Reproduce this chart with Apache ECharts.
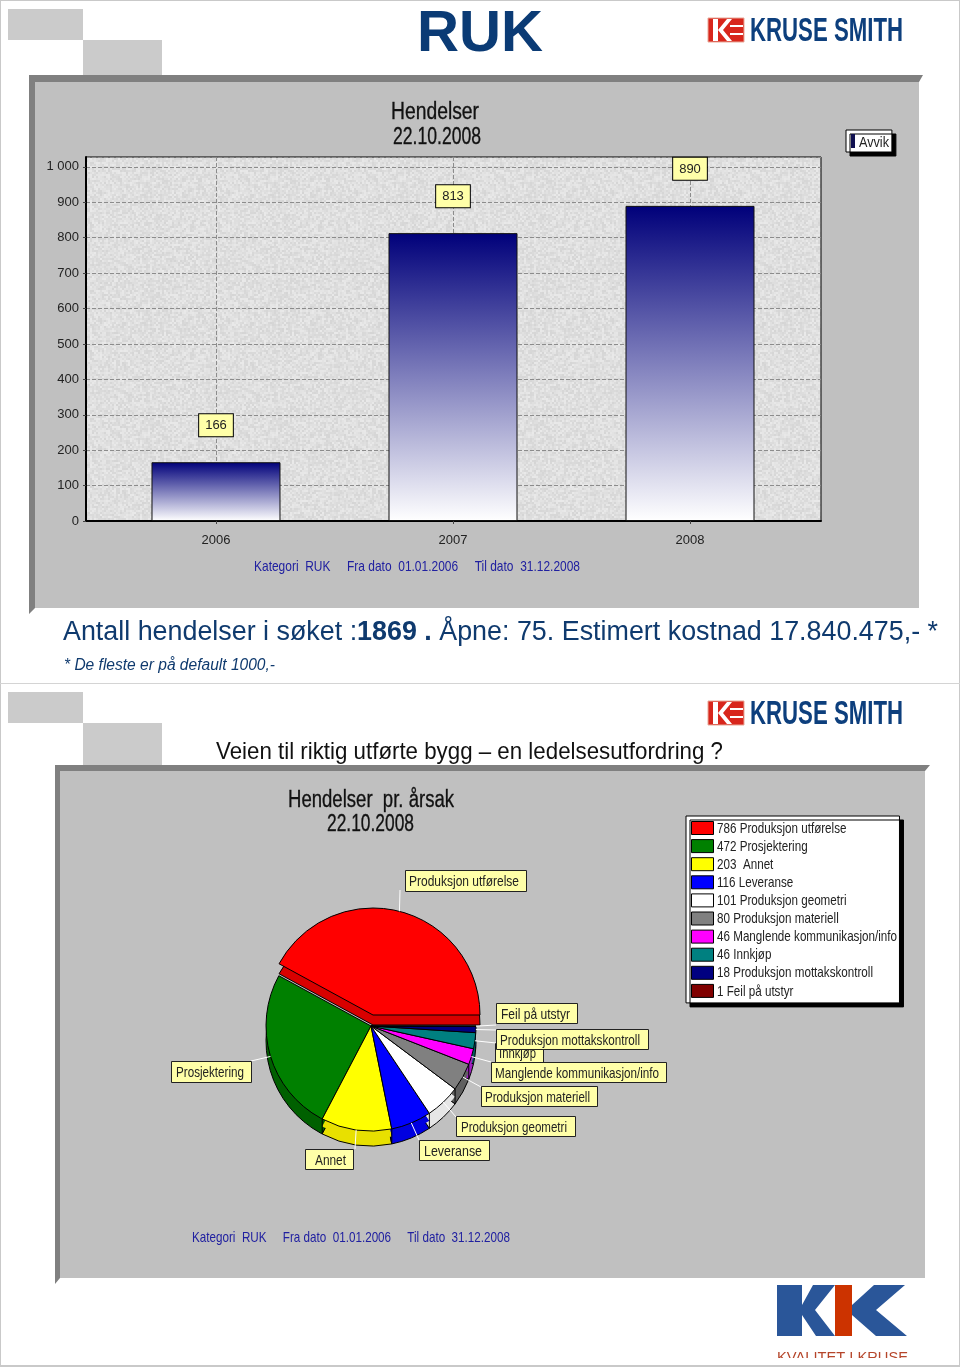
<!DOCTYPE html>
<html><head><meta charset="utf-8">
<style>html,body{margin:0;padding:0;background:#fff}#c{width:960px;height:1367px}</style>
<script src="https://cdn.jsdelivr.net/npm/echarts@6/dist/echarts.min.js"></script>
</head><body><div id="c"></div>
<script>
// ---- data ----
const years = [2006, 2007, 2008];
const yearValues = [166, 813, 890];
const barSeriesName = 'Avvik';
const causes = ['Produksjon utførelse','Prosjektering','Annet','Leveranse','Produksjon geometri','Produksjon materiell','Manglende kommunikasjon/info','Innkjøp','Produksjon mottakskontroll','Feil på utstyr'];
const causeValues = [786, 472, 203, 116, 101, 80, 46, 46, 18, 1];
const sliceColors = ['#ff0000','#008000','#ffff00','#0000ff','#ffffff','#808080','#ff00ff','#008080','#000080','#800000'];
const sideColors  = ['#d80000','#006000','#e8e000','#0000e0','#e6e6e6','#606060','#a020c0','#006060','#000060','#600000'];
const yTicks = [0,100,200,300,400,500,600,700,800,900,1000];

// ---- layout constants ----
const SANS = '"Liberation Sans",Arial,sans-serif';
const PIE = {x:371, y:1026, r:105, depth:15};
const RED = {x:373, y:1015, r:107, depth:10};
const callouts = [
 {i:7, box:[495,1043,48,19], end:[496,1043], t:[499,536]},
 {i:0, box:[405,870,121,21], end:[400,890], t:[409,519], from:'red'},
 {i:9, box:[496,1003,81,20], end:[496,1025], t:[501,570]},
 {i:8, box:[496,1029,152,20], end:[496,1030], t:[500,640]},
 {i:6, box:[491,1062,175,20], end:[491,1062], t:[495,659]},
 {i:5, box:[481,1086,116,20], end:[481,1087], t:[485,590]},
 {i:4, box:[456,1116,119,20], end:[456,1117], t:[461,567]},
 {i:3, box:[419,1140,70,20], end:[419,1140], t:[424,482]},
 {i:2, box:[305,1149,48,20], end:[355,1149], t:[315,346]},
 {i:1, box:[171,1061,80,21], end:[251,1061], t:[176,244]}
];

// ---- helpers ----
const mctx=document.createElement('canvas').getContext('2d');
function measure(t,font){mctx.font=font;return mctx.measureText(t).width;}
function noisePattern(){
  const c=document.createElement('canvas');c.width=c.height=128;
  const g=c.getContext('2d');let s=12345;
  for(let y=0;y<128;y+=2)for(let x=0;x<128;x+=2){
    s=(s*1103515245+12345)&0x7fffffff;
    const v=213+((s>>16)%21);
    g.fillStyle='rgb('+v+','+v+','+v+')';g.fillRect(x,y,2,2);
  }
  return {image:c,repeat:'repeat'};
}
const total = causeValues.reduce((a,b)=>a+b,0);
function angleAt(k){let s=0;for(let i=0;i<k;i++)s+=causeValues[i];return s/total*2*Math.PI;}
function rim(P,ang){return [P.x+P.r*Math.cos(ang),P.y-P.r*Math.sin(ang)];}

function pieLayer(name,cx,cy,r,colorOf,z,bw){
  return {type:'pie',name,center:[cx,cy],radius:[0,r],startAngle:0,clockwise:false,z,
    avoidLabelOverlap:false,silent:true,label:{show:false},labelLine:{show:false},emphasis:{disabled:true},
    minAngle:0,minShowLabelAngle:0,
    data:causes.map((n,i)=>({name:n,value:causeValues[i],itemStyle:{color:colorOf(i),borderColor:colorOf(i)==='transparent'?'transparent':'#000',borderWidth:bw,borderJoin:'round'}}))};
}
const series=[
  pieLayer('Årsak',PIE.x,PIE.y,PIE.r,i=>i===0?'transparent':sliceColors[i],6,1),
  pieLayer('s1',PIE.x,PIE.y+PIE.depth*0.5,PIE.r,i=>i===0?'transparent':sideColors[i],4,0),
  pieLayer('s2',PIE.x,PIE.y+PIE.depth,PIE.r,i=>i===0?'transparent':sideColors[i],3,1),
  pieLayer('r1',RED.x,RED.y+RED.depth,RED.r,i=>i===0?sideColors[0]:'transparent',7,1),
  pieLayer('r2',RED.x,RED.y,RED.r,i=>i===0?sliceColors[0]:'transparent',8,1),
  {type:'bar',name:barSeriesName,xAxisIndex:0,yAxisIndex:0,barWidth:129,silent:true,z:3,
   data:years.map((y,i)=>[y,yearValues[i]]),
   itemStyle:{borderColor:'#111',borderWidth:1,
     color:{type:'linear',x:0,y:0,x2:0,y2:1,colorStops:[{offset:0,color:'#00007a'},{offset:1,color:'#ffffff'}]}},
   label:{show:true,position:'top',distance:26,formatter:p=>String(p.value[1]),
     backgroundColor:'#ffffa8',borderColor:'#000',borderWidth:1,padding:[5,6,4,6],
     fontFamily:SANS,fontSize:13,color:'#222'}}
];

// ---- decoration ----
const g=[];
function rect(x,y,w,h,fill,z,extra){g.push({type:'rect',z:z,silent:true,shape:{x,y,width:w,height:h},style:Object.assign({fill},extra||{})});}
function poly(pts,fill,z){g.push({type:'polygon',z:z,silent:true,shape:{points:pts},style:{fill}});}
// text squeezed horizontally to run from x0 to x1 (the reference uses a narrow face)
function fit(t,x0,x1,y,font,fill,z,extra){
  const w=measure(t,font);
  g.push({type:'text',z:z,silent:true,x:x0,y:y,scaleX:(x1-x0)/w,originX:0,originY:0,
    style:Object.assign({text:t,x:0,y:0,font,fill,textAlign:'left',textVerticalAlign:'middle'},extra||{})});
}
const BG=-20,PN=-10;
rect(0,0,960,1,'#c9c9c9',BG);rect(0,0,1,1367,'#c9c9c9',BG);rect(959,0,1,1367,'#c9c9c9',BG);
rect(0,683,960,1,'#d4d4d4',BG);rect(0,1365,960,2,'#c9c9c9',BG);
[[8,9,75,31],[83,40,79,35],[8,692,75,31],[83,723,79,42]].forEach(a=>rect(a[0],a[1],a[2],a[3],'#cbcbcb',BG));
poly([[29,75],[923,75],[919,82],[35,82],[35,608],[29,614]],'#808080',PN);
rect(35,82,884,526,'#c0c0c0',PN);
poly([[55,765],[930,765],[925,771],[60,771],[60,1278],[55,1284]],'#808080',PN);
rect(60,771,865,507,'#c0c0c0',PN);
// headings
fit('RUK',417,543,35,'bold 58px '+SANS,'#0b3b75',10);
const L1='Antall hendelser i søket :',L2='1869 .',L3=' Åpne: 75. Estimert kostnad 17.840.475,- *';
const lineW=measure(L1,'27px '+SANS)+measure(L2,'bold 27px '+SANS)+measure(L3,'27px '+SANS);
g.push({type:'text',z:10,silent:true,x:63,y:633,scaleX:(938-63)/lineW,originX:0,originY:0,style:{x:0,y:0,textVerticalAlign:'middle',
  text:'{a|'+L1+'}{b|'+L2+'}{a|'+L3+'}',
  rich:{a:{fontSize:27,fontFamily:SANS,fill:'#0f3a6e'},
        b:{fontSize:27,fontWeight:'bold',fontFamily:SANS,fill:'#0f3a6e'}}}});
fit('* De fleste er på default 1000,-',64,275,666,'italic 16px '+SANS,'#0f3a6e',10);
fit('Veien til riktig utførte bygg – en ledelsesutfordring ?',216,723,752,'24px '+SANS,'#111',10);
const footer='Kategori  RUK     Fra dato  01.01.2006     Til dato  31.12.2008';
fit(footer,254,580,567,'15px '+SANS,'#2020a0',10);
fit(footer,192,510,1238,'15px '+SANS,'#2020a0',10);
const heavy={stroke:'#222',lineWidth:0.35};
fit('Hendelser',391,479,112.5,'23px '+SANS,'#111',10,heavy);
fit('22.10.2008',393,481,138,'23px '+SANS,'#111',10,heavy);
fit('Hendelser  pr. årsak',288,454,800.5,'23px '+SANS,'#111',10,heavy);
fit('22.10.2008',327,414,824.5,'23px '+SANS,'#111',10,heavy);
// Kruse Smith logos
[0,683].forEach(d=>{
  rect(708,18+d,36,24,'#d8261c',10,{stroke:'#e8a898',lineWidth:1});
  poly([[713,19+d],[718,19+d],[718,41+d],[713,41+d]],'#fff',11);
  poly([[718,30+d],[727,19+d],[732,19+d],[723,30+d],[732,41+d],[727,41+d]],'#fff',11);
  rect(730,25+d,13,2,'#fff',11);rect(730,33+d,13,2,'#fff',11);
  fit('KRUSE SMITH',750,903,32+d,'bold 33px '+SANS,'#0d3f7d',10);
});
// KIK logo
poly([[777,1285],[802,1285],[802,1305],[813,1285],[835,1285],[815,1310],[835,1336],[816,1336],[802,1315],[802,1336],[777,1336]],'#2a5699',10);
rect(835,1285,17,51,'#cc3300',11);
poly([[852,1305],[874,1285],[905,1285],[876,1310],[907,1336],[876,1336],[852,1315]],'#2a5699',10);
fit('KVALITET I KRUSE',777,908,1358,'14px '+SANS,'#b5452a',10);
rect(700,1358,250,7,'#fff',11);
// vertical edges on the front of the pie, from data
[1,2,3,4,5,6].forEach(k=>{
  const a=angleAt(k),p=rim(PIE,a);
  if(Math.sin(a)<0) g.push({type:'line',z:9,silent:true,shape:{x1:p[0],y1:p[1],x2:p[0],y2:p[1]+PIE.depth},style:{stroke:'#000',lineWidth:1}});
});
// callouts
callouts.forEach((c,n)=>{
  const P=c.from==='red'?RED:PIE;
  const s=rim(P,(angleAt(c.i)+angleAt(c.i+1))/2);
  g.push({type:'line',z:20,silent:true,shape:{x1:s[0],y1:s[1],x2:c.end[0],y2:c.end[1]},style:{stroke:'#fff',lineWidth:1}});
  const b=c.box;
  g.push({type:'rect',z:21+n*2,silent:true,shape:{x:b[0]+.5,y:b[1]+.5,width:b[2],height:b[3]},style:{fill:'#ffffa8',stroke:'#222',lineWidth:1}});
  fit(causes[c.i],c.t[0],c.t[1],b[1]+b[3]/2+1.5,'15px '+SANS,'#222',22+n*2);
});
// legend wording, squeezed to the reference's narrow face
const legendLabel=i=>causeValues[i]+(causes[i]==='Annet'?'  ':' ')+causes[i];
const legendScale=180/measure(legendLabel(6),'15px '+SANS);
causes.forEach((n,i)=>{
  g.push({type:'text',z:30,silent:true,x:717,y:828.5+18.1*i,scaleX:legendScale,originX:0,originY:0,
    style:{text:legendLabel(i),x:0,y:0,font:'15px '+SANS,fill:'#222',textVerticalAlign:'middle'}});
});
fit(barSeriesName,859,889,142.5,'15px '+SANS,'#222',30);

// native legends reserve the room for the squeezed wording with blank spacers
const spacer=w=>'\u00a0'.repeat(Math.round(w/3.61));
const option={
  animation:false,backgroundColor:'#fff',
  grid:{left:86,top:157,width:735,height:364,show:true,backgroundColor:noisePattern(),borderColor:'#000',borderWidth:1,containLabel:false},
  xAxis:{type:'value',min:2005.4515,max:2008.5527,
    axisLine:{show:true,lineStyle:{color:'#000',width:2}},
    axisTick:{show:true,length:3,lineStyle:{color:'#444'},customValues:years},
    axisLabel:{show:true,customValues:years,formatter:v=>String(v),margin:13,fontFamily:SANS,fontSize:13,color:'#222'},
    splitLine:{show:true,customValues:years,lineStyle:{type:'dashed',color:'#8c8c8c'}}},
  yAxis:{type:'value',min:0,max:1028,interval:100,
    axisLine:{show:true,lineStyle:{color:'#000',width:2}},
    axisTick:{show:true,length:3,lineStyle:{color:'#444'}},
    axisLabel:{showMaxLabel:false,margin:7,fontFamily:SANS,fontSize:13,color:'#222',
      formatter:v=>yTicks.indexOf(v)<0?'':(v===1000?'1 000':String(v))},
    splitLine:{show:true,lineStyle:{type:'dashed',color:'#8c8c8c'}}},
  legend:[
   {left:846,top:130,orient:'vertical',selectedMode:false,icon:'rect',itemWidth:4,itemHeight:14,itemGap:0,itemTextGap:5,padding:[4,3,4,5],
    backgroundColor:'#fff',borderColor:'#000',borderWidth:1,shadowColor:'#000',shadowOffsetX:4,shadowOffsetY:4,
    data:[{name:barSeriesName,itemStyle:{color:'#101050',borderWidth:0}}],formatter:()=>spacer(29),
    textStyle:{fontFamily:SANS,fontSize:13,color:'#fff'}},
   {left:686,top:816,orient:'vertical',selectedMode:false,icon:'rect',itemWidth:22,itemHeight:13,itemGap:4.1,padding:[5,4,5,5],itemTextGap:4,
    backgroundColor:'#fff',borderColor:'#000',borderWidth:1,shadowColor:'#000',shadowOffsetX:4,shadowOffsetY:4,
    data:causes.map((n,i)=>({name:n,itemStyle:{color:sliceColors[i],borderColor:'#000',borderWidth:1}})),
    formatter:()=>spacer(176),textStyle:{fontFamily:SANS,fontSize:13,color:'#fff'}}
  ],
  series,
  graphic:{elements:g}
};
const chart=echarts.init(document.getElementById('c'),null,{renderer:'canvas'});
chart.setOption(option);
</script></body></html>
